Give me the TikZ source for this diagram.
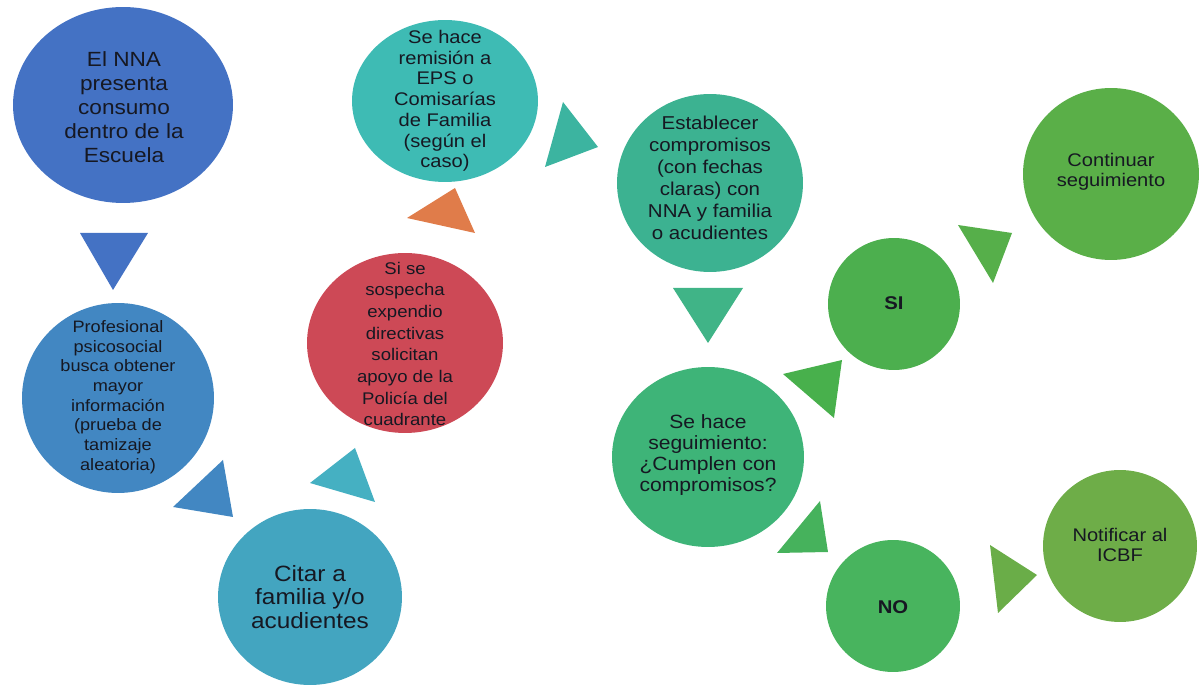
\documentclass[tikz,border=0pt]{standalone}
\usepackage{fontspec}
\setmainfont[FakeStretch=1.1]{Liberation Sans}
\usetikzlibrary{shapes.geometric}

\definecolor{cNNA}{RGB}{68,114,196}
\definecolor{cProf}{RGB}{66,135,194}
\definecolor{cCitar}{RGB}{67,165,192}
\definecolor{cCitTri}{RGB}{69,176,194}
\definecolor{cPoli}{RGB}{205,73,86}
\definecolor{cOrange}{RGB}{224,124,74}
\definecolor{cRemis}{RGB}{62,187,180}
\definecolor{cRemTri}{RGB}{60,180,160}
\definecolor{cEstab}{RGB}{60,178,145}
\definecolor{cEstTri}{RGB}{64,180,135}
\definecolor{cSegui}{RGB}{62,180,120}
\definecolor{cSiTri}{RGB}{72,176,76}
\definecolor{cSi}{RGB}{76,175,78}
\definecolor{cContTri}{RGB}{86,175,74}
\definecolor{cCont}{RGB}{90,175,72}
\definecolor{cNoTri}{RGB}{70,178,92}
\definecolor{cNo}{RGB}{72,180,94}
\definecolor{cNotTri}{RGB}{106,173,72}
\definecolor{cNotif}{RGB}{110,173,72}
\definecolor{cInk}{RGB}{22,24,34}

\tikzset{
	bubble/.style={ellipse, inner sep=0pt, draw=none},
	txt/.style={align=center, text=cInk, inner sep=0pt}
}

\begin{document}
\begin{tikzpicture}[x=0.02cm,y=-0.02cm]
		\useasboundingbox (0,0) rectangle (1201,685);
		% pasos del protocolo
		\node[bubble, fill=cNNA, minimum width=4.4cm, minimum height=3.92cm] (nna) at (123,105)
			{} ;
		\node[txt, font=\fontsize{11.7}{13.7}\selectfont] (nnatxt) at (124,107)
			{El NNA\\presenta\\consumo\\dentro de la\\Escuela};
		\node[bubble, fill=cProf, minimum width=3.84cm, minimum height=3.8cm] (prof) at (118,398) {};
		\node[txt, font=\fontsize{9.4}{11.2}\selectfont] (proftxt) at (118,397)
			{Profesional\\psicosocial\\busca obtener\\mayor\\información\\(prueba de\\tamizaje\\aleatoria)};
		\node[bubble, fill=cCitar, minimum width=3.68cm, minimum height=3.52cm] (citar) at (310,597) {};
		\node[txt, font=\fontsize{12.6}{13.2}\selectfont] (citartxt) at (310,597)
			{Citar a\\familia y/o\\acudientes};
		\node[bubble, fill=cPoli, minimum width=3.92cm, minimum height=3.6cm] (poli) at (405,343) {};
		\node[txt, font=\fontsize{9.6}{12.3}\selectfont] (politxt) at (405,344)
			{Si se\\sospecha\\expendio\\directivas\\solicitan\\apoyo de la\\Policía del\\cuadrante};
		\node[bubble, fill=cRemis, minimum width=3.72cm, minimum height=3.24cm] (remis) at (445,101) {};
		\node[txt, font=\fontsize{10.4}{11.8}\selectfont] (remistxt) at (445,101)
			{Se hace\\remisión a\\EPS o\\Comisarías\\de Familia\\(según el\\caso)};
		\node[bubble, fill=cEstab, minimum width=3.72cm, minimum height=3.56cm] (estab) at (710,183) {};
		\node[txt, font=\fontsize{10.6}{12.6}\selectfont] (estabtxt) at (710,178)
			{Establecer\\compromisos\\(con fechas\\claras) con\\NNA y familia\\o acudientes};
		\node[bubble, fill=cSegui, minimum width=3.84cm, minimum height=3.6cm] (segui) at (708,457) {};
		\node[txt, font=\fontsize{10.9}{11.9}\selectfont] (seguitxt) at (708,455)
			{Se hace\\seguimiento:\\¿Cumplen con\\compromisos?};
		% respuestas
		\node[bubble, fill=cSi, minimum width=2.64cm, minimum height=2.64cm] (si) at (894,304) {};
		\node[txt, font=\fontsize{10.5}{12}\selectfont\bfseries] (sitxt) at (894,303) {SI};
		\node[bubble, fill=cNo, minimum width=2.68cm, minimum height=2.64cm] (no) at (893,606) {};
		\node[txt, font=\fontsize{10.5}{12}\selectfont\bfseries] (notxt) at (893,607) {NO};
		\node[bubble, fill=cCont, minimum width=3.52cm, minimum height=3.44cm] (cont) at (1111,174) {};
		\node[txt, font=\fontsize{10.4}{11.3}\selectfont] (conttxt) at (1111,172)
			{Continuar\\seguimiento};
		\node[bubble, fill=cNotif, minimum width=3.08cm, minimum height=3.04cm] (notif) at (1120,546) {};
		\node[txt, font=\fontsize{10.4}{11.3}\selectfont] (notiftxt) at (1120,545)
			{Notificar al\\ICBF};
		% flechas triangulares entre pasos
		\foreach \ax/\ay/\bx/\by/\cx/\cy/\col in {
			80/233/148/233/113/290/cNNA,
			173/507/223/460/233/517/cProf,
			310/483/355/448/375/502/cCitTri,
			407/218/455/188/475/233/cOrange,
			563/102/598/147/545/167/cRemTri,
			673/288/743/288/708/343/cEstTri,
			783/374/842/360/834/418/cSiTri,
			958/225/1012/233/993/283/cContTri,
			777/553/820/501/828/552/cNoTri,
			990/545/1037/575/998/613/cNotTri}{
			\fill[\col] (\ax,\ay)--(\bx,\by)--(\cx,\cy)--cycle;
		}
	\end{tikzpicture}
\end{document}
